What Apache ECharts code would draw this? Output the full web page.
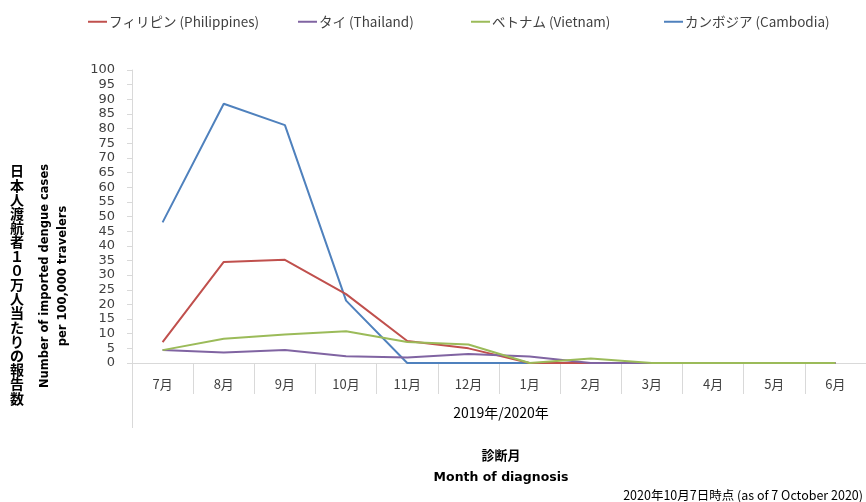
<!DOCTYPE html>
<html>
<head>
<meta charset="utf-8">
<script src="https://cdn.jsdelivr.net/npm/echarts@6/dist/echarts.min.js"></script>
<style>
html,body{margin:0;padding:0;background:#fff;}
#chart{width:866px;height:502px;}
</style>
</head>
<body>
<div id="chart"></div>
<script>
const months = ['7月','8月','9月','10月','11月','12月','1月','2月','3月','4月','5月','6月'];
const philippines = [7.1, 34.5, 35.2, 23.5, 7.5, 5.0, 0, 0, 0, 0, 0, 0];
const thailand    = [4.4, 3.6, 4.4, 2.3, 1.9, 3.1, 2.2, 0, 0, 0, 0, 0];
const vietnam     = [4.4, 8.3, 9.7, 10.8, 7.2, 6.3, 0, 1.5, 0, 0, 0, 0];
const cambodia    = [48.0, 88.5, 81.2, 21.3, 0, 0, 0, 0, 0, 0, 0, 0];
const seriesNames = ['フィリピン (Philippines)','タイ (Thailand)','ベトナム (Vietnam)','カンボジア (Cambodia)'];
const yTitleJa = '日本人渡航者１０万人当たりの報告数';
const yTitleEn = 'Number of imported dengue cases\nper 100,000 travelers';
const xGroupLabel = '2019年/2020年';
const xTitleJa = '診断月';
const xTitleEn = 'Month of diagnosis';
const footer = '2020年10月7日時点 (as of 7 October 2020)';

const colors = ['#C0504D','#8064A2','#9BBB59','#4F81BD'];
const legendLeft = [88, 298, 471, 664];
const jpFont = '"Noto Sans CJK JP", sans-serif';
const enFont = '"DejaVu Sans", sans-serif';

const chart = echarts.init(document.getElementById('chart'), null, {renderer:'canvas'});
const values = [philippines, thailand, vietnam, cambodia];

chart.setOption({
  animation: false,
  color: colors,
  legend: seriesNames.map((n, i) => ({
    top: 15,
    left: legendLeft[i],
    padding: 0,
    itemWidth: 19,
    itemHeight: 2,
    icon: 'rect',
    textStyle: {fontFamily: jpFont, fontSize: 13.5, color: '#404040', padding: [0,0,0,-3]},
    data: [n]
  })),
  grid: {left: 132, right: -5, top: 70, bottom: 139, containLabel: false},
  xAxis: {
    type: 'category',
    data: months,
    boundaryGap: true,
    axisLine: {show: true, lineStyle: {color: '#D9D9D9', width: 1}},
    axisTick: {show: true, length: 31, interval: 0, lineStyle: {color: '#D9D9D9'}},
    axisLabel: {fontFamily: jpFont, fontSize: 13, color: '#404040', margin: 15},
    splitLine: {show: false}
  },
  yAxis: {
    type: 'value',
    min: 0, max: 100, interval: 5,
    axisLine: {show: true, lineStyle: {color: '#D9D9D9'}},
    axisTick: {show: true, length: 5, lineStyle: {color: '#D9D9D9'}},
    axisLabel: {fontFamily: enFont, fontSize: 13, color: '#404040', margin: 17},
    splitLine: {show: false}
  },
  graphic: [
    {type: 'line', shape: {x1: 132.5, y1: 363, x2: 132.5, y2: 428}, style: {stroke: '#D9D9D9', lineWidth: 1}},
    {type: 'text', left: 10, top: 164, style: {text: yTitleJa.split('').join('\n'), font: 'bold 14px ' + jpFont, fill: '#000', lineHeight: 14.2, align: 'center'}},
    {type: 'text', x: 54, y: 276, rotation: Math.PI/2, style: {text: yTitleEn, font: 'bold 11.5px ' + enFont, fill: '#000', align: 'center', verticalAlign: 'middle', lineHeight: 18}},
    {type: 'text', x: 501, y: 413, style: {text: xGroupLabel, font: '14px ' + jpFont, fill: '#000', align: 'center', verticalAlign: 'middle'}},
    {type: 'text', x: 501, y: 455, style: {text: xTitleJa, font: 'bold 13px ' + jpFont, fill: '#000', align: 'center', verticalAlign: 'middle'}},
    {type: 'text', x: 501, y: 478, style: {text: xTitleEn, font: 'bold 12.5px ' + enFont, fill: '#000', align: 'center', verticalAlign: 'middle'}},
    {type: 'text', x: 863, y: 495, style: {text: footer, font: '12.5px ' + jpFont, fill: '#000', align: 'right', verticalAlign: 'middle'}}
  ],
  series: seriesNames.map((n, i) => ({
    name: n,
    type: 'line',
    data: values[i],
    showSymbol: false,
    symbol: 'none',
    smooth: false,
    lineStyle: {width: 2, color: colors[i]},
    z: i === 3 ? 2 : 3 + i
  }))
});
</script>
</body>
</html>
